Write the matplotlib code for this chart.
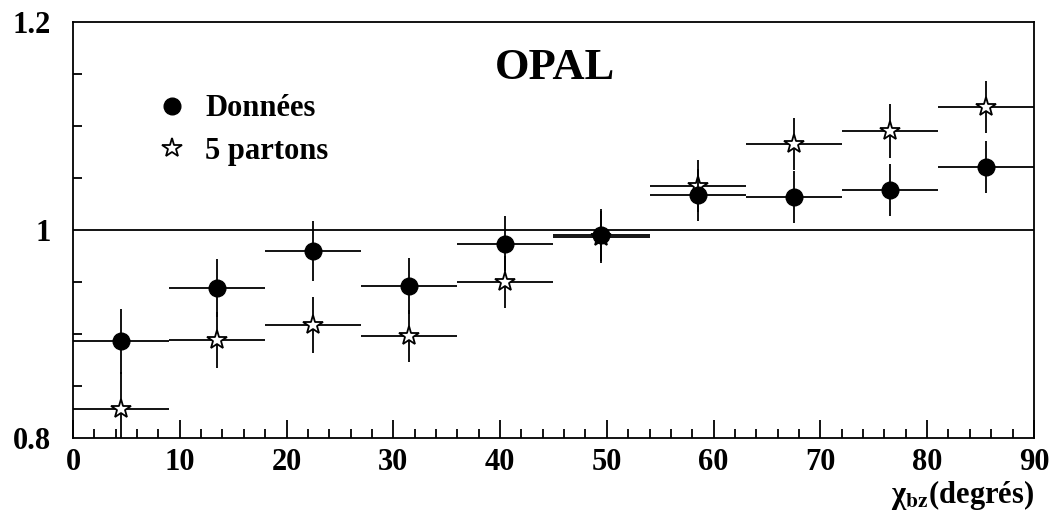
import numpy as np
import matplotlib
matplotlib.use("Agg")
import matplotlib.pyplot as plt
from matplotlib.lines import Line2D
from matplotlib.ticker import MultipleLocator

plt.rcParams['font.family'] = ['Liberation Serif', 'DejaVu Serif']
plt.rcParams['font.weight'] = 'bold'
plt.rcParams['mathtext.fontset'] = 'stix'

# --- data ---
bin_centres = [4.5, 13.5, 22.5, 31.5, 40.5, 49.5, 58.5, 67.5, 76.5, 85.5]
bin_half_width = 4.5
donnees = [0.893, 0.944, 0.980, 0.946, 0.987, 0.995, 1.034, 1.032, 1.038, 1.061]
donnees_err = [0.031, 0.028, 0.029, 0.027, 0.026, 0.025, 0.025, 0.025, 0.025, 0.025]
partons = [0.828, 0.894, 0.909, 0.898, 0.950, 0.993, 1.042, 1.083, 1.095, 1.118]
partons_err = [0.035, 0.027, 0.027, 0.025, 0.025, 0.025, 0.025, 0.025, 0.026, 0.025]

fig = plt.figure(figsize=(10.55, 5.14), dpi=100)
ax = fig.add_axes([0.0692, 0.1479, 0.9108, 0.8093])

ax.axhline(1.0, color='black', lw=1.3, zorder=1)

ax.errorbar(bin_centres, partons, xerr=bin_half_width, yerr=partons_err,
            fmt='*', ms=15, mfc='white', mec='black', mew=1.3,
            ecolor='black', elinewidth=1.3, capsize=0, zorder=2)
ax.errorbar(bin_centres, donnees, xerr=bin_half_width, yerr=donnees_err,
            fmt='o', ms=12, mfc='black', mec='black',
            ecolor='black', elinewidth=1.3, capsize=0, zorder=3)

ax.set_xlim(0, 90)
ax.set_ylim(0.8, 1.2)
ax.xaxis.set_major_locator(MultipleLocator(10))
ax.xaxis.set_minor_locator(MultipleLocator(2))
ax.yaxis.set_major_locator(MultipleLocator(0.2))
ax.yaxis.set_minor_locator(MultipleLocator(0.05))
ax.yaxis.set_major_formatter(plt.FuncFormatter(lambda v, p: f'{v:g}'))

ax.tick_params(axis='x', which='major', direction='in', length=13, width=1.3,
               labelsize=22, pad=7)
ax.tick_params(axis='x', which='minor', direction='in', length=6.5, width=1.3)
ax.tick_params(axis='y', which='major', direction='in', length=0, width=1.3,
               labelsize=22, pad=16)
ax.tick_params(axis='y', which='minor', direction='in', length=6.5, width=1.3)
for s in ax.spines.values():
    s.set_linewidth(1.3)

ax.set_xlabel('χ$_{\\mathbf{bz}}$(degrés)', fontsize=22, fontweight='bold',
              loc='right', labelpad=1)

ax.text(45.1, 1.156, 'OPAL', fontsize=32, fontweight='bold', ha='center',
        va='center')

handles = [Line2D([], [], ls='none', marker='o', ms=12, color='black'),
           Line2D([], [], ls='none', marker='*', ms=15, mfc='white',
                  mec='black', mew=1.3)]
ax.legend(handles, ['Données', '5 partons'], loc='upper left',
          bbox_to_anchor=(0.058, 0.892), frameon=False, fontsize=22,
          handlelength=1.0, handletextpad=0.6, labelspacing=0.45)

fig.savefig('out.png', dpi=100)
